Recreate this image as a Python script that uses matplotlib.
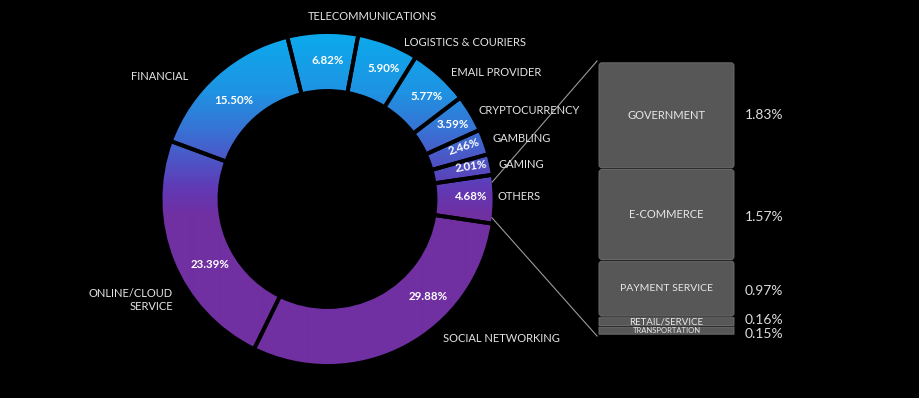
import numpy as np
import matplotlib
matplotlib.use("Agg")
import matplotlib.pyplot as plt
from matplotlib.colors import LinearSegmentedColormap
from matplotlib.patches import FancyBboxPatch

# ── data ──────────────────────────────────────────────────────────────────────
categories = ["OTHERS", "GAMING", "GAMBLING", "CRYPTOCURRENCY", "EMAIL PROVIDER",
              "LOGISTICS & COURIERS", "TELECOMMUNICATIONS", "FINANCIAL",
              "ONLINE/CLOUD\nSERVICE", "SOCIAL NETWORKING"]
shares = [4.68, 2.01, 2.46, 3.59, 5.77, 5.90, 6.82, 15.50, 23.39, 29.88]

sub_labels = ["GOVERNMENT", "E-COMMERCE", "PAYMENT SERVICE", "RETAIL/SERVICE",
              "TRANSPORTATION"]
sub_shares = [1.83, 1.57, 0.97, 0.16, 0.15]

# ── layout (pixel coords, y down) ─────────────────────────────────────────────
W, H = 920, 398
CX, CY, R, RIN = 327.5, 199, 165.5, 109.5

def px(x, y):
    return x, H - y

# category label anchors: (x, y, ha)
cat_pos = [(498, 197, "left"), (499, 164, "left"), (493, 139, "left"),
           (479, 110, "left"), (451, 73, "left"), (404, 43, "left"),
           (372, 17, "center"), (131, 76, "left"), (173, 300, "right"),
           (443, 338, "left")]
# percent label centres and rotation
pct_pos = [(471, 196, 0), (471, 166, 8), (464, 147, 18), (453, 124, 0),
           (427, 96, 0), (384, 69, 0), (328, 61, 0), (234, 100, 0),
           (210, 265, 0), (428, 296, 0)]

fig = plt.figure(figsize=(W / 100, H / 100), dpi=100, facecolor="black")
ax = fig.add_axes([0, 0, 1, 1])
ax.set_facecolor("black")

# ── donut ─────────────────────────────────────────────────────────────────────
wedges, _ = ax.pie(shares, radius=R + 1.5, center=(CX, H - CY), startangle=-8.5,
                   counterclock=True,
                   wedgeprops=dict(width=R - RIN + 3, facecolor="none",
                                   edgecolor="black", linewidth=2.8, zorder=3))

stops = [(0.0, "#0ca9ec"), (35 / H, "#0ca9ec"), (90 / H, "#1e94e3"),
         (130 / H, "#3872d4"), (160 / H, "#4d55c6"), (190 / H, "#6238b4"),
         (215 / H, "#7030a2"), (1.0, "#7030a2")]
grad_cmap = LinearSegmentedColormap.from_list("donut", stops)
grad = np.linspace(0, 1, H).reshape(-1, 1)
for w in wedges:
    im = ax.imshow(grad, cmap=grad_cmap, extent=(0, W, 0, H), origin="upper",
                   aspect="auto", zorder=1, interpolation="bilinear")
    im.set_clip_path(w)

for lbl, (x, y, ha) in zip(categories, cat_pos):
    ax.text(*px(x, y), lbl, color="#e4e4e4", fontsize=8, family="Lato",
            ha=ha, va="center", multialignment=ha, linespacing=1.2, zorder=5)

for v, (x, y, rot) in zip(shares, pct_pos):
    ax.text(*px(x, y), f"{v:.2f}%", color="white", fontsize=8.3, family="Lato",
            fontweight="bold", ha="center", va="center", rotation=rot, zorder=5)

# ── breakdown of "others" ────────────────────────────────────────────────────
BX0, BX1, BTOP, BBOT = 599, 734, 62, 335
scale = (BBOT - BTOP) / sum(sub_shares)
sub_fs = [8, 8, 7.5, 7, 5.5]
val_dy = [0, 2, 2, -1.5, 3]
y = BTOP
for lbl, v, fs, dy in zip(sub_labels, sub_shares, sub_fs, val_dy):
    h = v * scale
    rs = 3 if h > 20 else 0.1
    box = FancyBboxPatch(px(BX0, y + h - 0.8), BX1 - BX0, h - 1.6,
                         boxstyle=f"round,pad=0,rounding_size={rs}",
                         facecolor="#575757", edgecolor="#6b6b6b", lw=0.7,
                         zorder=2)
    ax.add_patch(box)
    ax.text(*px((BX0 + BX1) / 2, y + h / 2), lbl, color="#e8e8e8",
            fontsize=fs, family="Lato", ha="center", va="center", zorder=5)
    ax.text(*px(745, y + h / 2 + dy), f"{v:.2f}%", color="#dcdcdc",
            fontsize=10, family="Lato", ha="left", va="center", zorder=5)
    y += h

# connector lines from the "others" wedge to the breakdown
others = wedges[0]
for ang, by in [(others.theta2 - 2.5, BTOP - 1), (others.theta1 + 2, BBOT + 1)]:
    ox = CX + R * np.cos(np.radians(ang))
    oy = H - CY + R * np.sin(np.radians(ang))
    ax.plot([ox, BX0 - 2], [oy, H - by], color="#9a9a9a", lw=0.8, zorder=4)

ax.set_xlim(0, W)
ax.set_ylim(0, H)
ax.set_aspect("auto")
ax.axis("off")

fig.savefig("out.png", dpi=100, facecolor="black")
